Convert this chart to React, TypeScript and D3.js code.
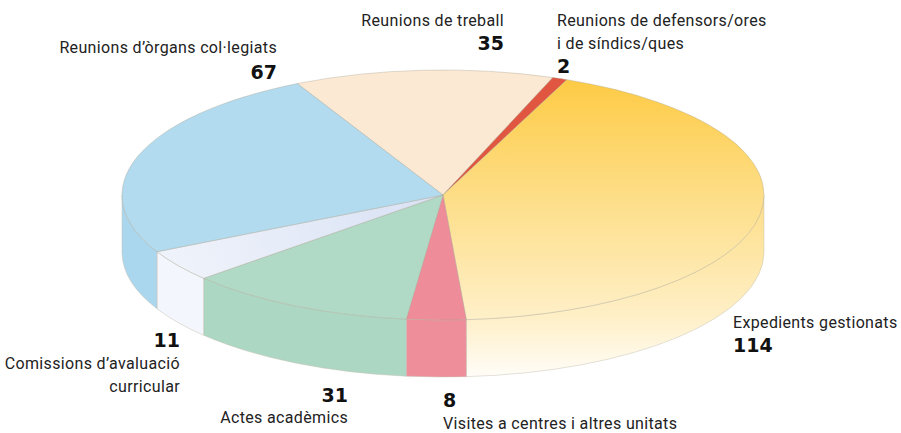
import React from "react";
import * as d3 from "d3";

// Slice data (clockwise from the top)
const CATEGORIES = [
  "Reunions de treball",
  "Reunions de defensors/ores i de síndics/ques",
  "Expedients gestionats",
  "Visites a centres i altres unitats",
  "Actes acadèmics",
  "Comissions d’avaluació curricular",
  "Reunions d’òrgans col·legiats",
];
const VALUES = [35, 2, 114, 8, 31, 11, 67];

// label text, broken into lines as in the original
const LABEL_LINES = [
  ["Reunions de treball"],
  ["Reunions de defensors/ores", "i de síndics/ques"],
  ["Expedients gestionats"],
  ["Visites a centres i altres unitats"],
  ["Actes acadèmics"],
  ["Comissions d’avaluació", "curricular"],
  ["Reunions d’òrgans col·legiats"],
];

// styles
const TOP_FILLS = ["#fce9d3", "#e05640", "url(#gYellow)", "#ee8c9a", "#b1dac6", "url(#gComTop)", "#b2dbef"];
const SIDE_FILLS = ["#f8dfc4", "#d84a36", "url(#gYellow)", "#ee8e9b", "#abd7c3", "#f3f6fc", "#aad6ee"];

// label placement: anchor x, baselines of each row (text rows + number row)
const LABEL_LAYOUT = [
  { x: 504, ys: [26, 50], anchor: "end", numFirst: false },
  { x: 557, ys: [26, 49, 73], anchor: "start", numFirst: false },
  { x: 733, ys: [328, 352], anchor: "start", numFirst: false },
  { x: 443, ys: [407, 429], anchor: "start", numFirst: true },
  { x: 348, ys: [402, 423], anchor: "end", numFirst: true },
  { x: 180, ys: [347, 369, 392], anchor: "end", numFirst: true },
  { x: 277, ys: [53, 79], anchor: "end", numFirst: false },
];

const W = 901;
const H = 433;
const CX = 443;
const CY = 195;
const RX = 321;
const RY = 125;
const DEPTH = 57;
const START = (-27 * Math.PI) / 180;

const sx = d3.scaleLinear().domain([-1, 1]).range([CX - RX, CX + RX]);
const sy = d3.scaleLinear().domain([-1, 1]).range([CY - RY, CY + RY]);

const pt = (a: number, dy = 0) => [sx(Math.sin(a)), sy(-Math.cos(a)) + dy];

function topPath(a0: number, a1: number) {
  const [x0, y0] = pt(a0);
  const [x1, y1] = pt(a1);
  const large = a1 - a0 > Math.PI ? 1 : 0;
  return `M${CX},${CY}L${x0},${y0}A${RX},${RY} 0 ${large} 1 ${x1},${y1}Z`;
}

function sidePath(a0: number, a1: number) {
  const b0 = Math.max(a0, Math.PI / 2);
  const b1 = Math.min(a1, (3 * Math.PI) / 2);
  if (b1 <= b0) return null;
  const [x0, y0] = pt(b0);
  const [x1, y1] = pt(b1);
  const [x2, y2] = pt(b1, DEPTH);
  const [x3, y3] = pt(b0, DEPTH);
  return `M${x0},${y0}A${RX},${RY} 0 0 1 ${x1},${y1}L${x2},${y2}A${RX},${RY} 0 0 0 ${x3},${y3}Z`;
}

export default function App() {
  const pie = d3
    .pie<number>()
    .sort(null)
    .value((d) => d)
    .startAngle(START)
    .endAngle(START + 2 * Math.PI);
  const arcs = pie(VALUES);

  const textFont = "Roboto, 'Noto Sans', sans-serif";
  const numFont = "'DejaVu Sans', sans-serif";

  return (
    <svg
      width={W}
      height={H}
      viewBox={`0 0 ${W} ${H}`}
      style={{ position: "absolute", left: 0, top: 0, background: "#fff" }}
    >
      <defs>
        <linearGradient id="gYellow" gradientUnits="userSpaceOnUse" x1="0" y1={CY - RY} x2="0" y2={CY + RY + DEPTH}>
          <stop offset="0" stopColor="#fdc93f" />
          <stop offset="0.4" stopColor="#fddd85" />
          <stop offset="0.8" stopColor="#feefc6" />
          <stop offset="1" stopColor="#fffdf8" />
        </linearGradient>
        <linearGradient id="gComTop" gradientUnits="userSpaceOnUse" x1={CX} y1={CY} x2={CX - RX * 0.8} y2={CY + RY * 0.6}>
          <stop offset="0" stopColor="#d8e1f4" />
          <stop offset="1" stopColor="#eef2fa" />
        </linearGradient>
      </defs>

      {/* side walls (front half only) */}
      <g>
        {arcs.map((a, i) => {
          const d = sidePath(a.startAngle, a.endAngle);
          return d ? (
            <path key={`s${i}`} d={d} fill={SIDE_FILLS[i]} stroke="#c6c1b4" strokeWidth={0.7} strokeOpacity={0.7} />
          ) : null;
        })}
      </g>

      {/* top face */}
      <g>
        {arcs.map((a, i) => (
          <path
            key={`t${i}`}
            d={topPath(a.startAngle, a.endAngle)}
            fill={TOP_FILLS[i]}
            stroke="#a9a291"
            strokeWidth={0.7}
            strokeOpacity={0.55}
            strokeLinejoin="round"
          />
        ))}
      </g>

      {/* labels */}
      <g>
        {arcs.map((a, i) => {
          const lay = LABEL_LAYOUT[i];
          const items: { t: string; num: boolean }[] = LABEL_LINES[i].map((t) => ({ t, num: false }));
          if (lay.numFirst) items.unshift({ t: String(a.data), num: true });
          else items.push({ t: String(a.data), num: true });
          return (
            <g key={`l${i}`} aria-label={CATEGORIES[i]}>
              {items.map((it, j) => (
                <text
                  key={j}
                  x={lay.x}
                  y={lay.ys[j]}
                  textAnchor={lay.anchor as any}
                  fontFamily={it.num ? numFont : textFont}
                  fontWeight={it.num ? 700 : 400}
                  fontSize={it.num ? 19 : 16}
                  letterSpacing={it.num ? 0 : 0.35}
                  fill={it.num ? "#111" : "#222"}
                >
                  {it.t}
                </text>
              ))}
            </g>
          );
        })}
      </g>
    </svg>
  );
}
